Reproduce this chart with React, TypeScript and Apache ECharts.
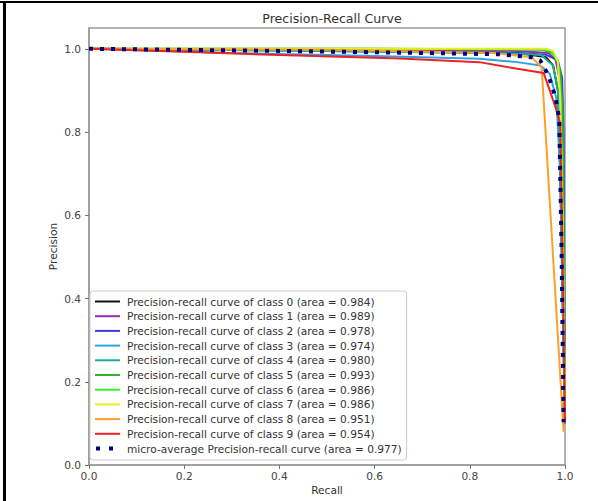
import React, { useEffect, useRef } from "react";
import * as echarts from "echarts";

// ---- data ----
const classLabels = ["0", "1", "2", "3", "4", "5", "6", "7", "8", "9"];
const classAreas = ["0.984", "0.989", "0.978", "0.974", "0.980", "0.993", "0.986", "0.986", "0.951", "0.954"];
const classColors = ["#111111", "#9a2bb5", "#3b3be0", "#2ea2e2", "#1aae96", "#2db52d", "#33ee33", "#e8ee22", "#ffa024", "#ee2222"];
const microArea = "0.977";
const microColor = "#000080";

const class0: number[][] = [[0, 1], [0.3, 0.998], [0.7, 0.994], [0.9, 0.99], [0.96, 0.98], [0.975, 0.96], [0.985, 0.9], [0.99, 0.7], [0.995, 0.4], [1, 0.1]];
const class1: number[][] = [[0, 1], [0.5, 0.998], [0.9, 0.995], [0.965, 0.99], [0.98, 0.975], [0.99, 0.92], [0.995, 0.6], [1, 0.1]];
const class2: number[][] = [[0, 1], [0.5, 0.995], [0.9, 0.99], [0.96, 0.986], [0.985, 0.972], [0.994, 0.93], [0.997, 0.8], [1, 0.1]];
const class3: number[][] = [[0, 1], [0.3, 0.99], [0.6, 0.983], [0.82, 0.976], [0.9, 0.968], [0.948, 0.96], [0.968, 0.94], [0.982, 0.88], [0.99, 0.7], [0.995, 0.4], [1, 0.1]];
const class4: number[][] = [[0, 1], [0.5, 0.995], [0.85, 0.99], [0.95, 0.985], [0.975, 0.96], [0.985, 0.9], [0.99, 0.75], [0.995, 0.4], [1, 0.1]];
const class5: number[][] = [[0, 1], [0.6, 1.0], [0.95, 0.998], [0.975, 0.99], [0.99, 0.95], [0.995, 0.85], [0.998, 0.5], [1, 0.1]];
const class6: number[][] = [[0, 1], [0.6, 1.0], [0.95, 0.999], [0.97, 0.995], [0.985, 0.97], [0.99, 0.9], [0.993, 0.7], [0.997, 0.4], [1, 0.1]];
const class7: number[][] = [[0, 1], [0.5, 1.0], [0.96, 1.0], [0.975, 0.995], [0.985, 0.97], [0.99, 0.88], [0.995, 0.6], [1, 0.1]];
const class8: number[][] = [[0, 1], [0.5, 0.998], [0.85, 0.99], [0.93, 0.98], [0.951, 0.955], [0.975, 0.5], [0.997, 0.08]];
const class9: number[][] = [[0, 1], [0.2, 0.993], [0.4, 0.985], [0.654, 0.977], [0.82, 0.968], [0.9, 0.952], [0.955, 0.942], [0.968, 0.9], [0.98, 0.86], [0.99, 0.82], [0.995, 0.5], [1, 0.1]];
const microAvg: number[][] = [[0, 1], [0.4, 0.995], [0.7, 0.99], [0.86, 0.987], [0.93, 0.98], [0.948, 0.972], [0.965, 0.936], [0.98, 0.884], [0.988, 0.83], [0.993, 0.5], [0.997, 0.103]];

const classCurves = [class0, class1, class2, class3, class4, class5, class6, class7, class8, class9];

const xTicks = [0, 0.2, 0.4, 0.6, 0.8, 1.0];
const yTicks = [0, 0.2, 0.4, 0.6, 0.8, 1.0];

const FONT = "DejaVu Sans";
const LINE_ICON = "path://M0,0M25,11M0,4.5h25v2h-25z";
const DOT_ICON = "path://M0,0M25,11M1,3.5h4v4h-4zM14,3.5h4v4h-4z";

export default function App() {
  const ref = useRef<HTMLDivElement>(null);
  useEffect(() => {
    if (!ref.current) return;
    const chart = echarts.init(ref.current, undefined, { renderer: "svg" });
    const series: any[] = classCurves.map((d, i) => ({
      name: `Precision-recall curve of class ${classLabels[i]} (area = ${classAreas[i]})`,
      type: "line",
      data: d,
      symbol: "none",
      showSymbol: false,
      lineStyle: { color: classColors[i], width: 2 },
      itemStyle: { color: classColors[i] },
    }));
    series.push({
      name: `micro-average Precision-recall curve (area = ${microArea})`,
      type: "line",
      data: microAvg,
      symbol: "none",
      showSymbol: false,
      lineStyle: { color: microColor, width: 4, type: [4, 7] },
      itemStyle: { color: microColor },
    });

    chart.setOption({
      animation: false,
      backgroundColor: "#ffffff",
      title: {
        text: "Precision-Recall Curve",
        left: 327,
        textAlign: "center",
        top: 7,
        textStyle: { fontFamily: FONT, fontSize: 12.6, fontWeight: "normal", color: "#333" },
      },
      grid: {
        left: 89,
        top: 28,
        right: 33,
        bottom: 36,
        show: true,
        borderColor: "#9a9a9a",
        borderWidth: 1.5,
      },
      xAxis: {
        type: "value",
        min: 0,
        max: 1,
        interval: 0.2,
        name: "Recall",
        nameLocation: "middle",
        nameGap: 19,
        nameMoveOverlap: false,
        nameTextStyle: { fontFamily: FONT, fontSize: 10.6, color: "#333" },
        axisLine: { show: true, lineStyle: { color: "#9a9a9a", width: 1.5 } },
        axisTick: { show: true, length: 4, lineStyle: { color: "#777" }, customValues: xTicks },
        axisLabel: {
          fontFamily: FONT, fontSize: 10.6, color: "#444", margin: 5,
          customValues: xTicks,
          formatter: (v: number) => v.toFixed(1),
        },
        splitLine: { show: false },
      },
      yAxis: {
        type: "value",
        min: 0,
        max: 1.05,
        interval: 0.2,
        name: "Precision",
        nameLocation: "middle",
        nameGap: 31,
        nameMoveOverlap: false,
        nameTextStyle: { fontFamily: FONT, fontSize: 10.6, color: "#333" },
        axisLine: { show: true, lineStyle: { color: "#9a9a9a", width: 1.5 } },
        axisTick: { show: true, length: 4, lineStyle: { color: "#777" }, customValues: yTicks },
        axisLabel: {
          fontFamily: FONT, fontSize: 10.6, color: "#444", margin: 8,
          customValues: yTicks,
          formatter: (v: number) => v.toFixed(1),
        },
        splitLine: { show: false },
      },
      legend: {
        orient: "vertical",
        left: 90,
        top: 291,
        padding: [5, 5, 6, 5],
        itemGap: 3.7,
        itemWidth: 25,
        itemHeight: 11,
        backgroundColor: "rgba(255,255,255,0.9)",
        borderColor: "#cccccc",
        borderWidth: 1,
        borderRadius: 3,
        itemStyle: { borderWidth: 0 },
        textStyle: { fontFamily: FONT, fontSize: 10.6, color: "#333", padding: [0, 0, 0, 2] },
        data: series.map((s, i) => ({ name: s.name, icon: i < classCurves.length ? LINE_ICON : DOT_ICON })),
      },
      series,
      graphic: [
        { type: "rect", shape: { x: 0, y: 1, width: 598, height: 2 }, style: { fill: "#000" }, z: 100 },
        { type: "rect", shape: { x: 3, y: 1, width: 3, height: 500 }, style: { fill: "#000" }, z: 100 },
      ],
    });
    return () => chart.dispose();
  }, []);
  return (
    <div
      ref={ref}
      style={{ position: "absolute", left: 0, top: 0, width: 598, height: 501 }}
    />
  );
}
